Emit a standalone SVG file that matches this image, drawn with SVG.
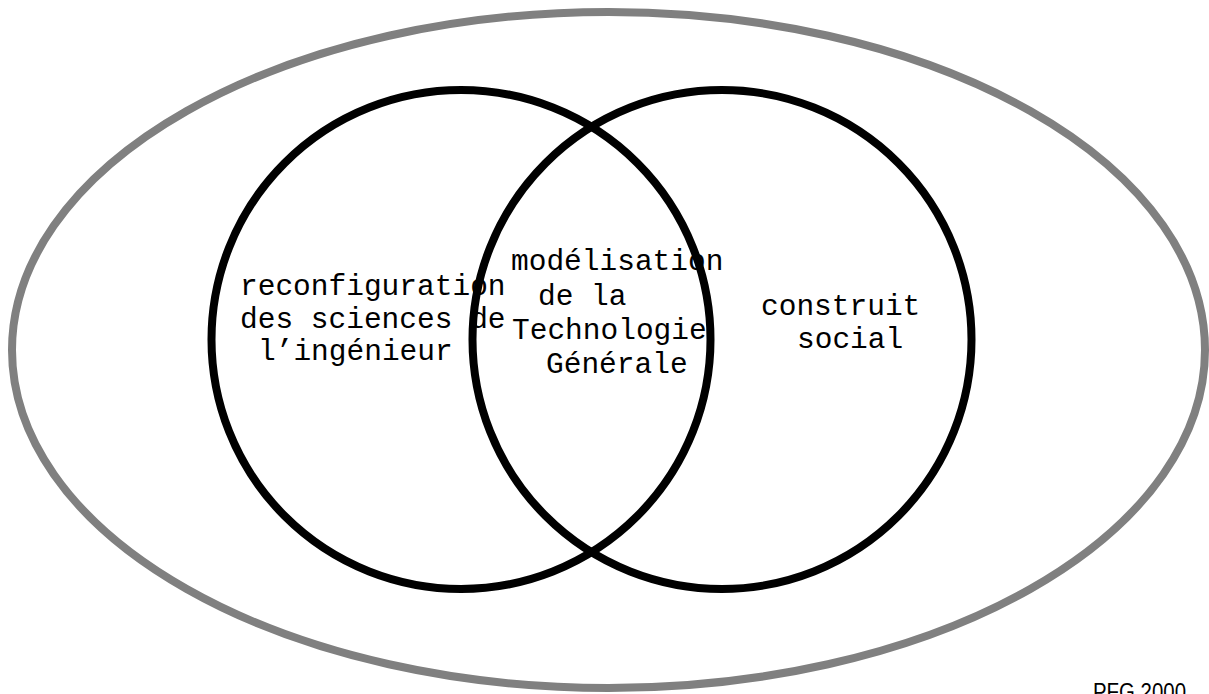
<svg xmlns="http://www.w3.org/2000/svg" width="1209" height="694" viewBox="0 0 1209 694">
<style>
.lbl{font-family:"Liberation Mono","Courier New",monospace;font-size:29.5px;fill:#000}
.ring{fill:none;stroke:#000;stroke-width:8}
</style>
<rect width="1209" height="694" fill="#fff"/>
<g id="outer"><ellipse cx="608.5" cy="350" rx="596.5" ry="338" fill="none" stroke="#808080" stroke-width="8"/></g>
<g id="left-circle"><circle class="ring" cx="461" cy="339.5" r="249.5"/></g>
<g id="right-circle"><circle class="ring" cx="722" cy="339.5" r="249.5"/></g>
<g id="left-label">
<text class="lbl" x="240" y="295">reconfiguration</text>
<text class="lbl" x="240" y="327.5">des sciences de</text>
<text class="lbl" x="258" y="360">l’ingénieur</text>
</g>
<g id="center-label">
<text class="lbl" x="511" y="270">modélisation</text>
<text class="lbl" x="538" y="304.5">de la</text>
<text class="lbl" x="512" y="339">Technologie</text>
<text class="lbl" x="546" y="373">Générale</text>
</g>
<g id="right-label">
<text class="lbl" x="761" y="315">construit</text>
<text class="lbl" x="797" y="348">social</text>
</g>
<g id="credit"><text x="1093" y="700" textLength="93" lengthAdjust="spacingAndGlyphs" font-family="Liberation Sans, Arial, sans-serif" font-size="23" fill="#000">PFG 2000</text></g>
</svg>
